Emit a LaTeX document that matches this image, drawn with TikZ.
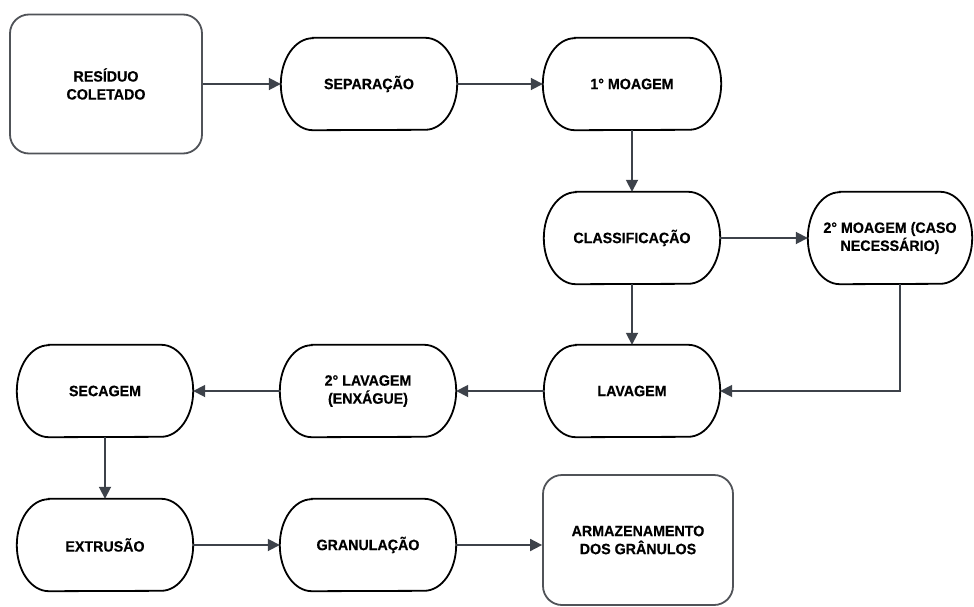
\documentclass[tikz,border=0pt]{standalone}
\usepackage{fontspec}
\setmainfont{Liberation Sans}[BoldFeatures={FakeStretch=0.95,FakeBold=0.4}]
\usetikzlibrary{arrows.meta}
\definecolor{linegray}{HTML}{3D424A}
\definecolor{boxgray}{HTML}{505358}
\newcommand\stadpath[1]{%
  \draw[stadline] ([xshift=32pt]#1.north west) -- ([xshift=-32pt]#1.north east)
    arc[start angle=90, end angle=-90, x radius=32pt, y radius=46pt]
    -- ([xshift=32pt]#1.south west)
    arc[start angle=270, end angle=90, x radius=32pt, y radius=46pt] -- cycle;}
\begin{document}
\begin{tikzpicture}[x=1pt,y=-1pt,
  lbl/.style={align=center, font=\bfseries\fontsize{15}{18}\selectfont, inner sep=0pt},
  stadium/.style={lbl, minimum width=176pt, minimum height=92pt},
  stadline/.style={draw=black, line width=1.8pt},
  endbox/.style={lbl, draw=boxgray, line width=1.8pt, rounded corners=19pt},
  conn/.style={draw=linegray, line width=1.8pt, -{Triangle[length=12pt,width=12pt]}}]
\useasboundingbox (0,0) rectangle (974,607);
\node[endbox, minimum width=192pt, minimum height=139pt] (res) at (106,84) {RESÍDUO\\COLETADO};
\node[stadium] (sep) at (369,84) {SEPARAÇÃO};
\node[stadium, minimum width=178pt] (moa1) at (632,84) {1° MOAGEM};
\node[stadium] (cla) at (632,238) {CLASSIFICAÇÃO};
\node[stadium, minimum width=164pt] (moa2) at (890,238) {2° MOAGEM (CASO\\NECESSÁRIO)};
\node[stadium] (lav) at (632,391) {LAVAGEM};
\node[stadium] (lav2) at (368,391) {2° LAVAGEM\\(ENXÁGUE)};
\node[stadium] (sec) at (105,391) {SECAGEM};
\node[stadium] (ext) at (105,545) {EXTRUSÃO};
\node[stadium] (gra) at (368,545) {GRANULAÇÃO};
\node[endbox, minimum width=190pt, minimum height=130pt] (arm) at (638,540) {ARMAZENAMENTO\\DOS GRÂNULOS};
\stadpath{sep}
\stadpath{moa1}
\stadpath{cla}
\stadpath{moa2}
\stadpath{lav}
\stadpath{lav2}
\stadpath{sec}
\stadpath{ext}
\stadpath{gra}
\draw[conn] (res.east) -- (sep.west);
\draw[conn] (sep.east) -- (moa1.west);
\draw[conn] (moa1.south) -- (cla.north);
\draw[conn] (cla.east) -- (moa2.west);
\draw[conn] (cla.south) -- (lav.north);
\draw[conn] ([xshift=10pt]moa2.south) |- (lav.east);
\draw[conn] (lav.west) -- (lav2.east);
\draw[conn] (lav2.west) -- (sec.east);
\draw[conn] (sec.south) -- (ext.north);
\draw[conn] (ext.east) -- (gra.west);
\draw[conn] (gra.east) -- (gra.east -| arm.west);
\end{tikzpicture}
\end{document}
